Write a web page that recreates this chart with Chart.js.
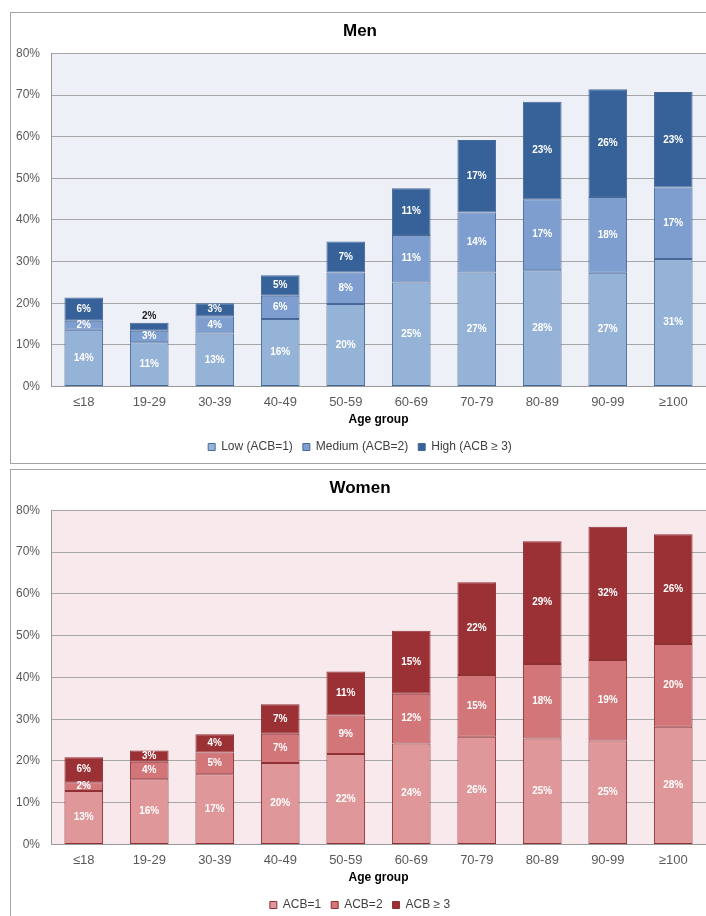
<!DOCTYPE html>
<html>
<head>
<meta charset="utf-8">
<script src="https://cdn.jsdelivr.net/npm/chart.js@4"></script>
<style>
  html, body { margin: 0; padding: 0; background: #fff; }
  body { width: 706px; height: 916px; overflow: hidden; position: relative; font-family: "Liberation Sans", Arial, sans-serif; }
  .box { position: absolute; left: 10px; width: 720px; border: 1px solid #a3a3a3; }
  #menBox { top: 12px; height: 450px; }
  #womenBox { top: 469px; height: 470px; }
  canvas { position: absolute; left: 0; }
  #menChart { top: 0; }
  #womenChart { top: 463px; }
</style>
</head>
<body>
<div class="box" id="menBox"></div>
<div class="box" id="womenBox"></div>
<canvas id="menChart" width="706" height="463"></canvas>
<canvas id="womenChart" width="706" height="458"></canvas>
<script>
// Share of patients by anticholinergic burden (ACB) score, by age group
const ageGroups = ['≤18', '19-29', '30-39', '40-49', '50-59', '60-69', '70-79', '80-89', '90-99', '≥100'];

const menLow    = [13.6, 10.6, 12.7, 16.2, 19.8, 25.0, 27.4, 27.9, 27.3, 30.6];
const menMedium = [2.2, 2.8, 4.2, 5.6, 7.6, 11.4, 14.4, 17.1, 18.2, 17.2];
const menHigh   = [5.6, 1.9, 3.1, 4.9, 7.4, 11.2, 17.4, 23.4, 25.9, 22.9];

const womenAcb1 = [12.8, 15.6, 16.8, 19.5, 21.7, 24.2, 25.8, 25.4, 24.9, 28.2];
const womenAcb2 = [2.1, 4.2, 5.2, 7.0, 9.2, 11.9, 14.8, 17.8, 19.3, 19.8];
const womenAcb3 = [6.0, 2.7, 4.4, 7.1, 10.5, 15.1, 22.2, 29.4, 31.9, 26.3];

const yMax = 80;
const yStep = 10;

const FONT = '"Liberation Sans", Arial, sans-serif';

// Fill the plot area behind the grid
const plotBackground = {
    id: 'plotBackground',
    beforeDraw(chart, args, opts) {
        const { ctx, chartArea: a } = chart;
        ctx.save();
        ctx.fillStyle = opts.color;
        ctx.fillRect(a.left, a.top, a.right - a.left, a.bottom - a.top);
        ctx.restore();
    }
};

// Percent labels inside each segment
const segmentLabels = {
    id: 'segmentLabels',
    afterDatasetsDraw(chart) {
        const { ctx } = chart;
        const last = chart.data.datasets.length - 1;
        ctx.save();
        ctx.font = 'bold 10px ' + FONT;
        ctx.textAlign = 'center';
        ctx.textBaseline = 'middle';
        chart.data.datasets.forEach((ds, di) => {
            const meta = chart.getDatasetMeta(di);
            meta.data.forEach((bar, i) => {
                const text = Math.round(ds.data[i]) + '%';
                const h = bar.base - bar.y;
                if (di === last && h < 9) {
                    // too thin: put it above the bar
                    ctx.fillStyle = '#1a1a1a';
                    ctx.fillText(text, bar.x, bar.y - 7);
                } else {
                    ctx.fillStyle = '#ffffff';
                    ctx.fillText(text, bar.x, (bar.y + bar.base) / 2);
                }
            });
        });
        ctx.restore();
    }
};

function makeChart(canvasId, title, labels, series, colors, border, bg, padTop) {
    const ctx = document.getElementById(canvasId).getContext('2d');
    return new Chart(ctx, {
        type: 'bar',
        data: {
            labels: ageGroups,
            datasets: series.map((data, i) => ({
                label: labels[i],
                data: data,
                backgroundColor: colors[i],
                borderColor: border,
                borderWidth: 1,
                borderSkipped: false,
                categoryPercentage: 1,
                barPercentage: 0.59
            }))
        },
        options: {
            responsive: false,
            animation: false,
            layout: { padding: { left: 14, top: padTop, right: 0, bottom: 0 } },
            plugins: {
                title: {
                    display: true,
                    text: title,
                    color: '#000',
                    font: { family: FONT, size: 17, weight: 'bold' },
                    padding: { top: 2, bottom: 12 }
                },
                legend: {
                    position: 'bottom',
                    labels: {
                        color: '#404040',
                        font: { family: FONT, size: 12 },
                        boxWidth: 7,
                        boxHeight: 7,
                        padding: 10
                    }
                },
                tooltip: { enabled: false },
                plotBackground: { color: bg }
            },
            scales: {
                x: {
                    stacked: true,
                    grid: { display: false, drawTicks: false },
                    border: { display: true, color: '#9a9a9a' },
                    ticks: { color: '#595959', font: { family: FONT, size: 13 }, padding: 8 },
                    title: {
                        display: true,
                        text: 'Age group',
                        color: '#000',
                        font: { family: FONT, size: 12, weight: 'bold' },
                        padding: { top: -6, bottom: 4.5 }
                    }
                },
                y: {
                    stacked: true,
                    min: 0,
                    max: yMax,
                    afterFit(scale) { scale.width = 37; },
                    grid: { color: '#a6a6a6', lineWidth: 1, drawTicks: false },
                    border: { display: true, color: '#9a9a9a' },
                    ticks: {
                        stepSize: yStep,
                        color: '#595959',
                        font: { family: FONT, size: 12 },
                        padding: 11,
                        callback: v => v + '%'
                    }
                }
            }
        },
        plugins: [plotBackground, segmentLabels]
    });
}

window.addEventListener('DOMContentLoaded', () => {
    makeChart('menChart', 'Men',
        ['Low (ACB=1)', 'Medium (ACB=2)', 'High (ACB ≥ 3)'],
        [menLow, menMedium, menHigh],
        ['#95b3d7', '#7e9ecf', '#376299'], '#47699a', '#eef0f8', 19);

    makeChart('womenChart', 'Women',
        ['ACB=1', 'ACB=2', 'ACB ≥ 3'],
        [womenAcb1, womenAcb2, womenAcb3],
        ['#e0979a', '#d27679', '#9b3135'], '#8e3034', '#f8e9ec', 13);
});
</script>
</body>
</html>
